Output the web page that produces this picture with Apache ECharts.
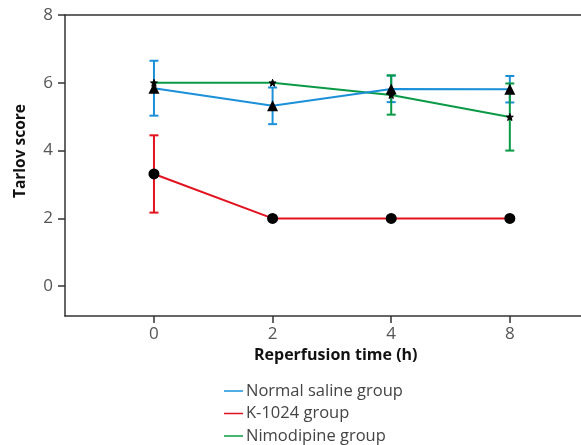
<!DOCTYPE html>
<html>
<head>
<meta charset="utf-8">
<script src="https://cdn.jsdelivr.net/npm/echarts@6/dist/echarts.min.js"></script>
<style>html,body{margin:0;padding:0;background:#fff}#c{width:581px;height:445px}</style>
</head>
<body>
<div id="c"></div>
<script>
const categories = ["0", "2", "4", "8"];
const yTicks = [0, 2, 4, 6, 8];
const seriesNames = ['Normal saline group', 'K-1024 group', 'Nimodipine group'];
const salineMean = [5.84, 5.32, 5.82, 5.81];
const salineErr  = [0.81, 0.54, 0.39, 0.39];
const k1024Mean  = [3.31, 2.0, 2.0, 2.0];
const k1024Err   = [1.14, 0, 0, 0];
const nimoMean   = [6.0, 6.0, 5.64, 4.99];
const nimoErr    = [0, 0, 0.58, 0.99];

const BLUE = '#1a90d8', RED = '#e2121f', GREEN = '#0a9a46';
const COLORS = [BLUE, RED, GREEN];
const FONT = 'Open Sans';
const idx = categories.map((c, i) => i);

function pts(mean) { return mean.map((v, i) => [idx[i], v]); }
function errData(mean, err) {
  return mean.map((v, i) => [idx[i], v - err[i], v + err[i]]).filter((d, i) => err[i] > 0);
}
function errSeries(name, mean, err, color) {
  return {
    type: 'custom', name: name, z: 2,
    data: errData(mean, err),
    renderItem: function (params, api) {
      const x = api.value(0);
      const lo = api.coord([x, api.value(1)]);
      const hi = api.coord([x, api.value(2)]);
      const w = 4.5;
      const st = { stroke: color, lineWidth: 2 };
      return { type: 'group', children: [
        { type: 'line', shape: { x1: lo[0], y1: lo[1], x2: hi[0], y2: hi[1] }, style: st },
        { type: 'line', shape: { x1: lo[0] - w, y1: lo[1], x2: lo[0] + w, y2: lo[1] }, style: st },
        { type: 'line', shape: { x1: hi[0] - w, y1: hi[1], x2: hi[0] + w, y2: hi[1] }, style: st }
      ]};
    }
  };
}
function lineSeries(name, mean, color, symbol, size, z) {
  return {
    type: 'line', name: name, data: pts(mean), z: z,
    lineStyle: { color: color, width: 2 },
    itemStyle: { color: '#000', borderColor: '#000', borderWidth: symbol === 'star' ? 1 : 0 },
    symbol: symbol === 'star' ? 'path://M0,-10 L2.6,-3.2 L9.5,-3.1 L4,1.2 L5.9,8.1 L0,4 L-5.9,8.1 L-4,1.2 L-9.5,-3.1 L-2.6,-3.2 Z' : symbol,
    symbolSize: size, showSymbol: true, animation: false,
    emphasis: { disabled: true }
  };
}
const legendTops = [382, 404.5, 427];
const legends = seriesNames.map((n, i) => ({
  orient: 'vertical', left: 224, top: legendTops[i], padding: 0, itemWidth: 19, itemHeight: 1.5,
  icon: 'rect', selectedMode: false,
  textStyle: { fontSize: 16.5, lineHeight: 18, color: '#444', fontFamily: FONT, padding: [0, 0, 0, -2] },
  data: [{ name: n, itemStyle: { color: COLORS[i] } }]
}));

const chart = echarts.init(document.getElementById('c'), null, { renderer: 'canvas' });
chart.setOption({
  animation: false,
  textStyle: { fontFamily: FONT },
  grid: { left: 65, right: 0, top: 15, bottom: 129 },
  xAxis: [{
    type: 'value', min: -0.75, max: 3.6, interval: 1,
    axisLine: { show: true, onZero: false, lineStyle: { color: '#333', width: 1.5 } },
    axisTick: { show: true, length: 7, lineStyle: { color: '#333', width: 1.5 }, customValues: idx },
    axisLabel: { margin: 10, fontSize: 17, color: '#555', fontFamily: FONT, customValues: idx,
      formatter: v => categories[Math.round(v)] },
    splitLine: { show: false }
  }, {
    type: 'value', position: 'top', min: -0.75, max: 3.6,
    axisLine: { show: true, onZero: false, lineStyle: { color: '#333', width: 1.5 } },
    axisTick: { show: false }, axisLabel: { show: false }, splitLine: { show: false }
  }],
  yAxis: {
    type: 'value', min: -0.88, max: 8,
    axisLine: { show: true, onZero: false, lineStyle: { color: '#333', width: 1.5 } },
    axisTick: { show: true, length: 7, lineStyle: { color: '#333', width: 1.5 }, customValues: yTicks },
    axisLabel: { margin: 12, fontSize: 17, color: '#555', fontFamily: FONT, customValues: yTicks },
    splitLine: { show: false }
  },
  legend: legends,
  graphic: [
    { type: 'text', left: 254, top: 347, style: { text: 'Reperfusion time (h)', fontSize: 16, fontWeight: 'bold', fill: '#111', fontFamily: FONT }, z: 10 },
    { type: 'text', x: 21, y: 151, rotation: Math.PI / 2, style: { text: 'Tarlov score', fontSize: 15.5, fontWeight: 'bold', fill: '#111', fontFamily: FONT, align: 'center', verticalAlign: 'middle' }, z: 10 }
  ],
  series: [
    errSeries(seriesNames[0], salineMean, salineErr, BLUE),
    errSeries(seriesNames[1], k1024Mean, k1024Err, RED),
    errSeries(seriesNames[2], nimoMean, nimoErr, GREEN),
    lineSeries(seriesNames[1], k1024Mean, RED, 'circle', 11, 3),
    lineSeries(seriesNames[2], nimoMean, GREEN, 'star', 7, 4),
    lineSeries(seriesNames[0], salineMean, BLUE, 'triangle', 11, 5)
  ]
});
</script>
</body>
</html>
